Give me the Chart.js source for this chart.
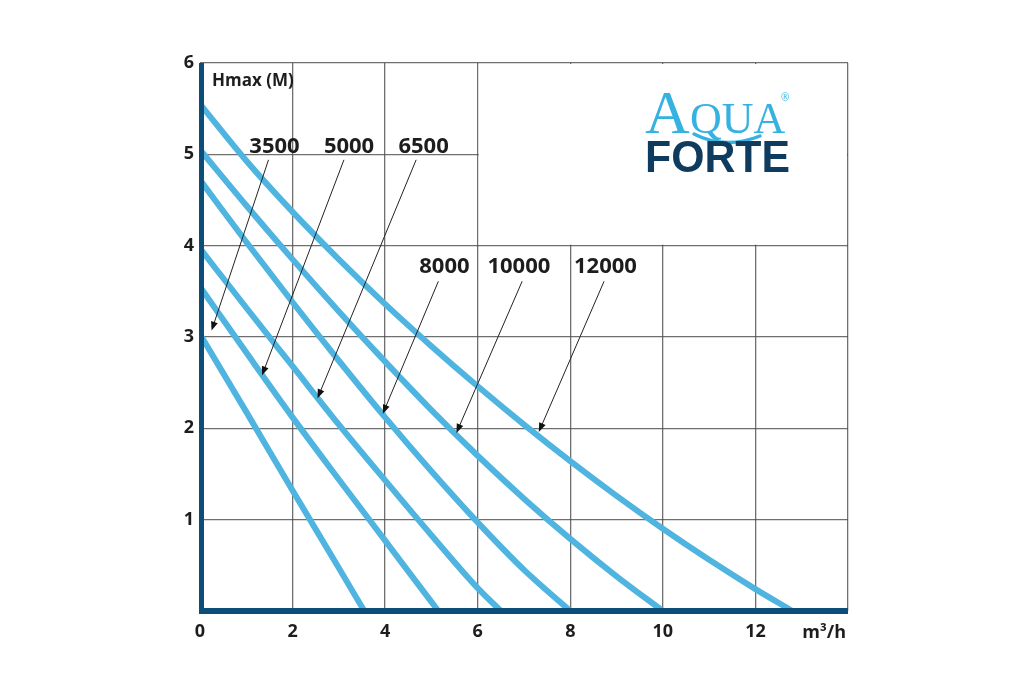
<!DOCTYPE html>
<html><head><meta charset="utf-8">
<script src="https://cdn.jsdelivr.net/npm/chart.js@4.4.1/dist/chart.umd.min.js"></script>
<style>html,body{margin:0;padding:0;background:#fff;}#wrap{width:1035px;height:700px;}</style>
</head><body><div id="wrap"><canvas id="c" width="1035" height="700"></canvas></div>
<script>
// ---- data (flow m3/h, head m) ----
const seriesNames = ['3500','5000','6500','8000','10000','12000'];
const q3500 = [0, 1, 2, 3, 3.55];
const h3500 = [3.03, 2.18, 1.32, 0.47, 0];
const q5000 = [0, 1, 2, 3, 4, 5, 5.15];
const h5000 = [3.55, 2.83, 2.12, 1.44, 0.77, 0.1, 0];
const q6500 = [0, 1, 2, 3, 4, 5, 6, 6.5];
const h6500 = [3.97, 3.32, 2.68, 2.04, 1.43, 0.83, 0.25, 0];
const q8000 = [0, 1, 2, 3, 4, 5, 6, 7, 8];
const h8000 = [4.72, 4.04, 3.38, 2.74, 2.12, 1.53, 0.97, 0.45, 0];
const q10000 = [0, 1, 2, 3, 4, 5, 6, 7, 8, 9, 10];
const h10000 = [5.05, 4.44, 3.85, 3.28, 2.73, 2.2, 1.7, 1.23, 0.79, 0.38, 0];
const q12000 = [0, 1, 2, 3, 4, 5, 6, 7, 8, 9, 10, 11, 12, 12.8];
const h12000 = [5.55, 4.93, 4.37, 3.85, 3.36, 2.9, 2.46, 2.04, 1.64, 1.26, 0.9, 0.56, 0.24, 0];
const xTicks = [0, 2, 4, 6, 8, 10, 12, 14];
const yTicks = [0, 1, 2, 3, 4, 5, 6];
const xUnit = 'm³/h';
const yTitle = 'Hmax (M)';
// label annotations, in data units
const labelPos = [[1.61, 5.08], [3.22, 5.08], [4.83, 5.08], [5.28, 3.77], [6.89, 3.77], [8.76, 3.77]];
const arrowFrom = [[1.48, 4.94], [3.11, 4.94], [4.67, 4.94], [5.15, 3.61], [6.96, 3.61], [8.73, 3.61]];
const arrowTo = [[0.25, 3.07], [1.34, 2.58], [2.54, 2.33], [3.95, 2.16], [5.54, 1.95], [7.32, 1.96]];

const series = [[q3500, h3500], [q5000, h5000], [q6500, h6500], [q8000, h8000], [q10000, h10000], [q12000, h12000]];
const CURVE = '#4fb4df', AXIS = '#0c4d79', TXT = '#1d1d1d', GRID = 'rgba(75,75,75,0.8)';
const FONT = '"Open Sans", "DejaVu Sans", sans-serif';

const datasets = series.map(([q, h], i) => ({
  label: seriesNames[i],
  data: q.map((x, j) => ({x: x, y: h[j]})),
  borderColor: CURVE, borderWidth: 6, pointRadius: 0, fill: false,
  cubicInterpolationMode: 'monotone', borderCapStyle: 'butt'
}));

const deco = {
  id: 'deco',
  beforeDatasetsDraw(chart) {
    const {ctx, scales: {x, y}} = chart;
    ctx.save();
    ctx.fillStyle = '#fff';
    const l = x.getPixelForValue(6) + 1, r = x.getPixelForValue(14) - 1;
    const t = y.getPixelForValue(6) + 1, b = y.getPixelForValue(4) - 1;
    ctx.fillRect(l, t, r - l, b - t);
    ctx.restore();
  },
  afterDatasetsDraw(chart) {
    const {ctx, scales: {x, y}} = chart;
    const X = v => x.getPixelForValue(v), Y = v => y.getPixelForValue(v);
    ctx.save();
    // axes
    ctx.fillStyle = AXIS;
    ctx.fillRect(X(0) - 1, Y(6), 5, Y(0) - Y(6) + 3);
    ctx.fillRect(X(0) - 1, Y(0) - 3, X(14) - X(0) + 1, 6);
    // series labels + arrows
    ctx.fillStyle = TXT; ctx.strokeStyle = '#222'; ctx.lineWidth = 1;
    ctx.font = 'bold 22px ' + FONT; ctx.textAlign = 'center'; ctx.textBaseline = 'middle';
    seriesNames.forEach((n, i) => {
      ctx.fillText(n, X(labelPos[i][0]), Y(labelPos[i][1]));
      const x0 = X(arrowFrom[i][0]), y0 = Y(arrowFrom[i][1]);
      const x1 = X(arrowTo[i][0]), y1 = Y(arrowTo[i][1]);
      const a = Math.atan2(y1 - y0, x1 - x0);
      ctx.beginPath(); ctx.moveTo(x0, y0); ctx.lineTo(x1 - 6 * Math.cos(a), y1 - 6 * Math.sin(a)); ctx.stroke();
      ctx.beginPath();
      ctx.moveTo(x1, y1);
      ctx.lineTo(x1 - 9 * Math.cos(a) + 3.5 * Math.sin(a), y1 - 9 * Math.sin(a) - 3.5 * Math.cos(a));
      ctx.lineTo(x1 - 9 * Math.cos(a) - 3.5 * Math.sin(a), y1 - 9 * Math.sin(a) + 3.5 * Math.cos(a));
      ctx.closePath(); ctx.fillStyle = '#111'; ctx.fill(); ctx.fillStyle = TXT;
    });
    // axis titles
    ctx.font = 'bold 17px ' + FONT; ctx.textAlign = 'left';
    ctx.fillText(yTitle, X(0) + 12, Y(6) + 18);
    ctx.font = 'bold 18px ' + FONT; ctx.textAlign = 'right';
    ctx.fillText(xUnit, X(14) - 2, Y(0) + 22);
    // logo
    ctx.textAlign = 'left'; ctx.textBaseline = 'alphabetic';
    ctx.fillStyle = '#36b2e1';
    ctx.font = '62px "Liberation Serif", "DejaVu Serif", serif';
    ctx.fillText('A', 645, 133);
    ctx.font = '44px "Liberation Serif", "DejaVu Serif", serif';
    ctx.fillText('QUA', 690, 133);
    ctx.font = '10px ' + FONT;
    ctx.fillText('®', 781, 101);
    ctx.strokeStyle = '#36b2e1'; ctx.lineWidth = 3.5; ctx.lineCap = 'round';
    ctx.beginPath(); ctx.moveTo(694, 134); ctx.quadraticCurveTo(725, 150, 760, 136); ctx.stroke();
    ctx.fillStyle = '#0f3b5e';
    ctx.font = '900 45px "Liberation Sans", "DejaVu Sans", sans-serif';
    const w = ctx.measureText('FORTE').width;
    ctx.translate(645, 172); ctx.scale(145 / w, 1);
    ctx.fillText('FORTE', 0, 0);
    ctx.restore();
  }
};

new Chart(document.getElementById('c'), {
  type: 'line',
  data: {datasets},
  options: {
    responsive: false, animation: false, devicePixelRatio: 1,
    layout: {padding: {left: 0, right: 187, top: 63, bottom: 0}},
    plugins: {legend: {display: false}, tooltip: {enabled: false}},
    scales: {
      x: {
        type: 'linear', min: 0, max: 14,
        afterBuildTicks: s => { s.ticks = xTicks.map(v => ({value: v})); },
        afterFit: s => { s.height = 89; },
        grid: {color: GRID, lineWidth: 1.3, drawTicks: false},
        border: {display: false},
        ticks: {callback: v => (v === 14 ? '' : String(v)), color: TXT, padding: 10, maxRotation: 0, autoSkip: false,
                font: {family: FONT, weight: 'bold', size: 18}}
      },
      y: {
        type: 'linear', min: 0, max: 6,
        afterBuildTicks: s => { s.ticks = yTicks.map(v => ({value: v})); },
        afterFit: s => { s.width = 200; },
        grid: {color: GRID, lineWidth: 1.3, drawTicks: false},
        border: {display: false},
        ticks: {callback: v => (v === 0 ? '' : String(v)), color: TXT, padding: 6,
                font: {family: FONT, weight: 'bold', size: 18}}
      }
    }
  },
  plugins: [deco]
});
</script></body></html>
